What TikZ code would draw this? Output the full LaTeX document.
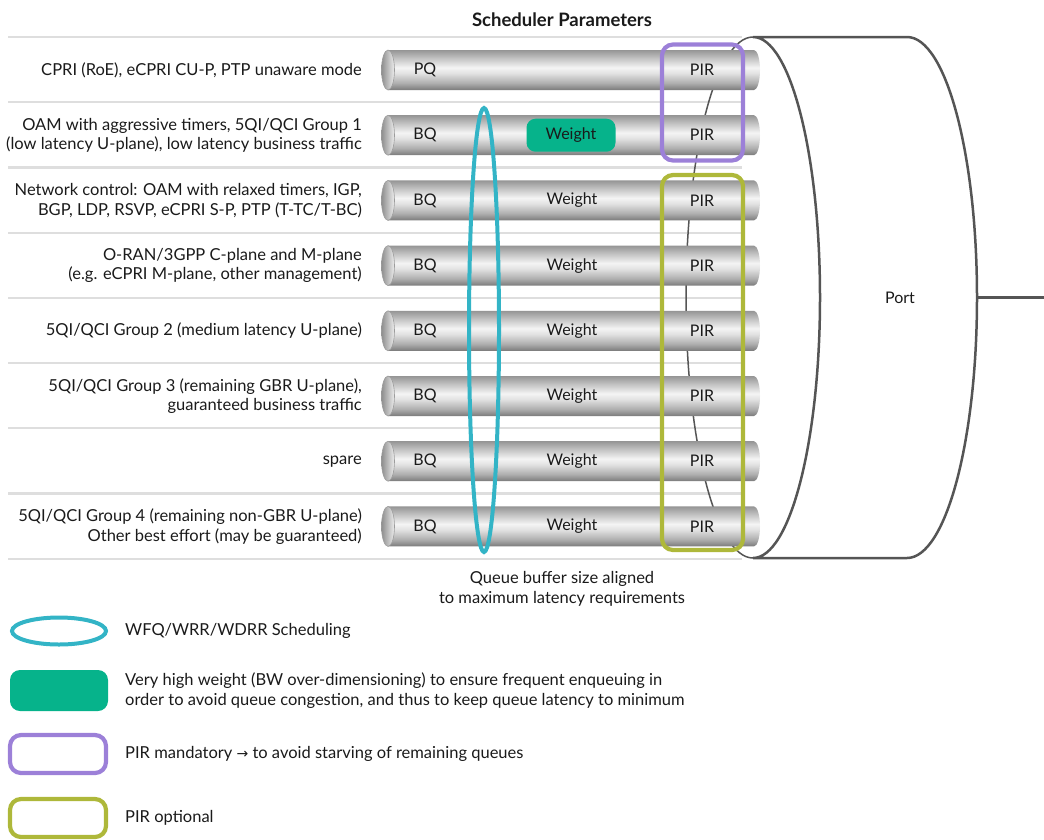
\documentclass[tikz,border=0pt]{standalone}
\usepackage{fontspec}
\setmainfont{Lato}
\newfontfamily\symfont{DejaVu Sans}
\usetikzlibrary{calc}

\definecolor{txt}{HTML}{1A1A1A}
\definecolor{sepgray}{HTML}{DEDEDE}
\definecolor{portgray}{HTML}{555555}
\definecolor{ringteal}{HTML}{33B4C6}
\definecolor{wgreen}{HTML}{06B38B}
\definecolor{mandpurple}{HTML}{9C80D8}
\definecolor{optolive}{HTML}{AEB83A}
\definecolor{tubeB}{HTML}{7A7A7A}
\definecolor{tubeLo}{HTML}{B0B0B0}
\definecolor{tubeL}{HTML}{F4F4F4}
\definecolor{tubeL2}{HTML}{E2E2E2}
\definecolor{tubeHi}{HTML}{C6C6C6}
\definecolor{tubeT}{HTML}{959595}
\definecolor{capD}{HTML}{8E8E8E}
\definecolor{capL}{HTML}{EDEDED}
\definecolor{capR}{HTML}{9C9C9C}

% metallic look of a queue tube (bottom -> top)
\pgfdeclareverticalshading{tube}{100bp}{%
  color(0bp)=(tubeB); color(25bp)=(tubeB); color(34bp)=(tubeLo);
  color(46bp)=(tubeL2); color(53bp)=(tubeL); color(64bp)=(tubeHi);
  color(75bp)=(tubeT); color(100bp)=(tubeT)}

\tikzset{
  lab/.style={anchor=east, align=right, inner sep=0pt, text=txt,
              font=\fontsize{16.5pt}{19.5pt}\selectfont},
  legtxt/.style={anchor=west, align=left, inner sep=0pt, text=txt,
              font=\fontsize{16.5pt}{19.5pt}\selectfont},
  qtxt/.style={inner sep=0pt, text=txt, font=\fontsize{16pt}{19pt}\selectfont},
  sepline/.style={draw=sepgray, line width=2.2pt},
  wbox/.style={fill=wgreen, rounded corners=9pt, minimum width=89pt,
               minimum height=33pt, inner sep=0pt, text=txt,
               font=\fontsize{16pt}{19pt}\selectfont},
  mandbox/.style={draw=mandpurple, line width=4.2pt, rounded corners=11pt,
                  inner sep=0pt},
  optbox/.style={draw=optolive, line width=4.2pt, rounded corners=11pt,
                 inner sep=0pt},
  schedring/.style={draw=ringteal, line width=4pt},
  portfront/.style={draw=portgray, line width=2.5pt},
  portback/.style={draw=portgray, line width=1.5pt},
}

\begin{document}
\begin{tikzpicture}[x=1pt, y=1pt]
\useasboundingbox (0,0) rectangle (1044,-839);

% title
\node[inner sep=0pt, text=txt, font=\fontsize{18.5pt}{22pt}\selectfont\bfseries]
  (title) at (562,-20) {Scheduler Parameters};

% row separators
\foreach \k in {0,...,8}{
  \pgfmathsetmacro\ys{-(37+65.2*\k)}
  \draw[sepline] (8,\ys) -- (742,\ys);
}

% hidden half of the port
\draw[portback] (753,-37) arc[start angle=90, end angle=270, x radius=67pt, y radius=260.5pt];

% queue tubes
\foreach \i in {1,...,8}{
  \pgfmathsetmacro\yy{-(70+65.2*(\i-1))}
  \begin{scope}[yshift=\yy pt]
    \shade[shading=tube] (388,20) -- (754,20)
      arc[start angle=90, end angle=-90, x radius=6pt, y radius=20pt]
      -- (388,-20) -- cycle;
    \shade[left color=capD, right color=capL, draw=capR, line width=0.6pt]
      (388,0) ellipse[x radius=6.5pt, y radius=20pt];
  \end{scope}
}

% port
\fill[white] (753,-37) -- (907,-37)
  arc[start angle=90, end angle=-90, x radius=70pt, y radius=260.5pt]
  -- (753,-558)
  arc[start angle=-90, end angle=90, x radius=67pt, y radius=260.5pt] -- cycle;
\draw[portfront] (753,-558) arc[start angle=-90, end angle=90, x radius=67pt, y radius=260.5pt]
  -- (907,-37)
  arc[start angle=90, end angle=-90, x radius=70pt, y radius=260.5pt]
  -- (753,-558);
\coordinate (portR) at (977,-297.5);
\coordinate (linkend) at (1044,-297.5);
\draw[portfront] (portR) -- (linkend);
\node[qtxt] (port) at (900,-297.5) {Port};

% traffic class labels
\node[lab] (lab1) at (362,-70)    {CPRI (RoE), eCPRI CU-P, PTP unaware mode};
\node[lab] (lab2) at (362,-135.2) {OAM with aggressive timers, 5QI/QCI Group 1\\(low latency U-plane), low latency business traffic};
\node[lab] (lab3) at (362,-200.4) {Network control: OAM with relaxed timers, IGP,\\BGP, LDP, RSVP, eCPRI S-P, PTP (T-TC/T-BC)};
\node[lab] (lab4) at (362,-265.6) {O-RAN/3GPP C-plane and M-plane\\(e.g. eCPRI M-plane, other management)};
\node[lab] (lab5) at (362,-330.8) {5QI/QCI Group 2 (medium latency U-plane)};
\node[lab] (lab6) at (362,-396)   {5QI/QCI Group 3 (remaining GBR U-plane),\\guaranteed business traffic};
\node[lab] (lab7) at (362,-461.2) {spare};
\node[lab] (lab8) at (362,-526.4) {5QI/QCI Group 4 (remaining non-GBR U-plane)\\Other best effort (may be guaranteed)};

% queue parameters
\node[qtxt] (q1) at (425,-70) {PQ};
\foreach \i in {2,...,8}{
  \pgfmathsetmacro\yy{-(70+65.2*(\i-1))}
  \node[qtxt] (q\i) at (425,\yy) {BQ};
}
\node[wbox] (w2) at (571,-135.2) {Weight};
\foreach \i in {3,...,8}{
  \pgfmathsetmacro\yy{-(70+65.2*(\i-1))}
  \node[qtxt] (w\i) at (572,\yy) {Weight};
}
\foreach \i in {1,...,8}{
  \pgfmathsetmacro\yy{-(70+65.2*(\i-1))}
  \node[qtxt] (pir\i) at (702,\yy) {PIR};
}

% scheduling group and PIR groups
\draw[schedring] (484,-330) ellipse[x radius=15pt, y radius=222pt];
\node[mandbox, minimum width=81pt, minimum height=116pt] (mand) at (702.5,-102.5) {};
\node[optbox, minimum width=81pt, minimum height=375pt] (opt) at (702.5,-362.5) {};

% buffer note
\node[inner sep=0pt, align=center, text=txt, font=\fontsize{16.5pt}{20pt}\selectfont]
  (buf) at (562,-589) {Queue buffer size aligned\\to maximum latency requirements};

% legend
\draw[schedring] (59,-631) ellipse[x radius=47pt, y radius=13.5pt];
\node[legtxt] (leg1) at (125,-631) {WFQ/WRR/WDRR Scheduling};
\node[fill=wgreen, rounded corners=10pt, minimum width=98pt, minimum height=41pt, inner sep=0pt]
  (legw) at (59,-690.5) {};
\node[legtxt] (leg2) at (125,-690.5) {Very high weight (BW over-dimensioning) to ensure frequent enqueuing in\\order to avoid queue congestion, and thus to keep queue latency to minimum};
\node[mandbox, minimum width=96pt, minimum height=38pt] (legm) at (58,-754) {};
\node[legtxt] (leg3) at (125,-754) {PIR mandatory {\symfont\fontsize{14pt}{16pt}\selectfont →} to avoid starving of remaining queues};
\node[optbox, minimum width=96pt, minimum height=38pt] (lego) at (58,-818) {};
\node[legtxt] (leg4) at (125,-818) {PIR optional};
\end{tikzpicture}
\end{document}
